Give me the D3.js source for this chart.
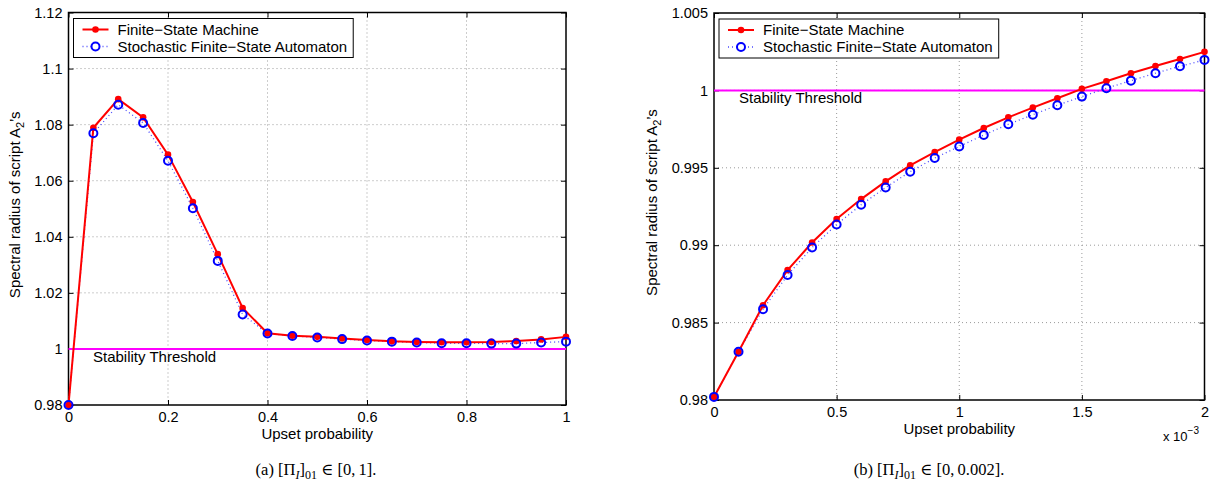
<!DOCTYPE html>
<html lang="en">
<head>
<meta charset="utf-8" />
<title>Spectral radius vs upset probability</title>
<script src="https://cdn.jsdelivr.net/npm/d3@7"></script>
<style>
  body { margin: 0; background: #fff; }
  svg text { font-family: "Liberation Sans", Arial, sans-serif; fill: #000; }
  svg text.cap { font-family: "Liberation Serif", "DejaVu Serif", serif; }
</style>
</head>
<body>
<div id="chart"></div>
<script>
"use strict";

// panel (a): upset probability 0..1
let xA = [0,0.05,0.1,0.15,0.2,0.25,0.3,0.35,0.4,0.45,0.5,0.55,0.6,0.65,0.7,0.75,0.8,0.85,0.9,0.95,1]
let fsmA = [0.98,1.0789,1.0891,1.0826,1.0693,1.0524,1.0338,1.0146,1.0056,1.0047,1.0043,1.0037,1.0032,1.0027,1.0025,1.0024,1.0024,1.0025,1.0028,1.0034,1.0043]
let sfsaA = [0.98,1.0769,1.0871,1.0806,1.0671,1.0502,1.0314,1.0123,1.0055,1.0046,1.0041,1.0035,1.0030,1.0026,1.0023,1.0020,1.0020,1.0019,1.0019,1.0023,1.0026]
let xTicksA = [0,0.2,0.4,0.6,0.8,1]
let yTicksA = [0.98,1,1.02,1.04,1.06,1.08,1.1,1.12]

// panel (b): upset probability 0..0.002 (x in units of 1e-3)
let xB = [0,0.1,0.2,0.3,0.4,0.5,0.6,0.7,0.8,0.9,1,1.1,1.2,1.3,1.4,1.5,1.6,1.7,1.8,1.9,2]
let fsmB = [0.9802,0.98312,0.98612,0.98839,0.99017,0.99169,0.99298,0.99412,0.99516,0.99601,0.99682,0.99757,0.99826,0.99889,0.99949,1.0001,1.00059,1.00111,1.00158,1.00203,1.00249]
let sfsaB = [0.9802,0.98312,0.98587,0.98807,0.98985,0.99134,0.99261,0.99373,0.99475,0.99563,0.99638,0.99712,0.99781,0.99843,0.99904,0.9996,1.00014,1.00063,1.00111,1.00156,1.00197]
let xTicksB = [0,0.5,1,1.5,2]
let yTicksB = [0.98,0.985,0.99,0.995,1,1.005]

let threshold = 1
let seriesNames = ["Finite\u2212State Machine", "Stochastic Finite\u2212State Automaton"]

let width = 1211, height = 489
let svg = d3.select("#chart").append("svg").attr("width", width).attr("height", height)

function panel(opt){
  let x = d3.scaleLinear().domain(opt.xDom).range([opt.left, opt.right])
  let y = d3.scaleLinear().domain(opt.yDom).range([opt.bottom, opt.top])
  let g = svg.append("g")

  // grid
  g.append("g").selectAll("line").data(opt.xTicks.slice(1, -1)).join("line")
    .attr("x1", d => x(d)).attr("x2", d => x(d)).attr("y1", opt.top).attr("y2", opt.bottom)
    .attr("stroke", "#9a9a9a").attr("stroke-width", 1).attr("stroke-dasharray", "1,3")
  g.append("g").selectAll("line").data(opt.yTicks.slice(1, -1)).join("line")
    .attr("y1", d => y(d)).attr("y2", d => y(d)).attr("x1", opt.left).attr("x2", opt.right)
    .attr("stroke", "#9a9a9a").attr("stroke-width", 1).attr("stroke-dasharray", "1,3")

  // axes, ticks inward on all four sides
  g.append("g").attr("transform", `translate(0,${opt.bottom})`)
    .call(d3.axisBottom(x).tickValues(opt.xTicks).tickSize(-5).tickPadding(7).tickFormat(d3.format("")))
  g.append("g").attr("transform", `translate(${opt.left},0)`)
    .call(d3.axisLeft(y).tickValues(opt.yTicks).tickSize(-5).tickPadding(6).tickFormat(d3.format("")))
  g.append("g").attr("transform", `translate(0,${opt.top})`)
    .call(d3.axisTop(x).tickValues(opt.xTicks).tickSize(-5).tickFormat(""))
  g.append("g").attr("transform", `translate(${opt.right},0)`)
    .call(d3.axisRight(y).tickValues(opt.yTicks).tickSize(-5).tickFormat(""))
  g.selectAll(".domain").remove()
  g.selectAll(".tick text").attr("font-size", 14.5).attr("font-family", "Liberation Sans, Arial, sans-serif")
  g.selectAll(".tick line").attr("stroke", "#000")
  g.append("rect").attr("x", opt.left).attr("y", opt.top)
    .attr("width", opt.right - opt.left).attr("height", opt.bottom - opt.top)
    .attr("fill", "none").attr("stroke", "#000").attr("stroke-width", 1.5)

  // threshold
  g.append("line").attr("x1", opt.left).attr("x2", opt.right)
    .attr("y1", y(threshold)).attr("y2", y(threshold))
    .attr("stroke", "#ff00ff").attr("stroke-width", 2)
  g.append("text").attr("x", opt.thrX).attr("y", y(threshold) + 13)
    .attr("font-size", 15).text("Stability Threshold")

  // series
  let ptsF = opt.xs.map((d, i) => [d, opt.fsm[i]])
  let ptsS = opt.xs.map((d, i) => [d, opt.sfsa[i]])
  let line = d3.line().x(d => x(d[0])).y(d => y(d[1]))
  g.append("path").datum(ptsS).attr("d", line).attr("fill", "none")
    .attr("stroke", "#4a4aff").attr("stroke-width", 1.3).attr("stroke-dasharray", "1,3")
  g.append("path").datum(ptsF).attr("d", line).attr("fill", "none")
    .attr("stroke", "#ff0000").attr("stroke-width", 2)
  g.append("g").selectAll("circle").data(ptsF).join("circle")
    .attr("cx", d => x(d[0])).attr("cy", d => y(d[1])).attr("r", 3.3).attr("fill", "#ff0000")
  g.append("g").selectAll("circle").data(ptsS).join("circle")
    .attr("cx", d => x(d[0])).attr("cy", d => y(d[1])).attr("r", 4)
    .attr("fill", "none").attr("stroke", "#0000ff").attr("stroke-width", 2)

  // legend
  let lg = g.append("g").attr("transform", `translate(${opt.left + 5},${opt.top + 6})`)
  let box = lg.append("rect").attr("height", 39)
    .attr("fill", "#fff").attr("stroke", "#000").attr("stroke-width", 1)
  lg.append("line").attr("x1", 9).attr("x2", 35).attr("y1", 11).attr("y2", 11)
    .attr("stroke", "#ff0000").attr("stroke-width", 2)
  lg.append("circle").attr("cx", 22).attr("cy", 11).attr("r", 3.3).attr("fill", "#ff0000")
  lg.append("line").attr("x1", 9).attr("x2", 35).attr("y1", 28).attr("y2", 28)
    .attr("stroke", "#4a4aff").attr("stroke-width", 1.3).attr("stroke-dasharray", "1,3")
  lg.append("circle").attr("cx", 22).attr("cy", 28).attr("r", 4)
    .attr("fill", "#fff").attr("stroke", "#0000ff").attr("stroke-width", 2)
  let t1 = lg.append("text").attr("x", 44).attr("y", 16).attr("font-size", 15).text(seriesNames[0])
  let t2 = lg.append("text").attr("x", 44).attr("y", 33).attr("font-size", 15).text(seriesNames[1])
  let tw = Math.max(t1.node().getComputedTextLength(), t2.node().getComputedTextLength())
  box.attr("width", 44 + tw + 6)

  // axis labels
  g.append("text").attr("x", (opt.left + opt.right) / 2).attr("y", opt.bottom + 34)
    .attr("text-anchor", "middle").attr("font-size", 15).text("Upset probability")
  let yl = g.append("text").attr("transform", `translate(${opt.yLabX},${(opt.top + opt.bottom) / 2 - 4}) rotate(-90)`)
    .attr("text-anchor", "middle").attr("font-size", 15)
  yl.append("tspan").text("Spectral radius of script A")
  yl.append("tspan").attr("dy", 4).attr("font-size", 11).text("2")
  yl.append("tspan").attr("dy", -4).text("\u2019s")

  // caption
  let cap = g.append("text").attr("class", "cap").attr("x", opt.capX).attr("y", 475)
    .attr("text-anchor", "middle").attr("font-size", 16.5)
  cap.append("tspan").text("(" + opt.tag + ")  [\u03A0")
  cap.append("tspan").attr("dy", 4).attr("font-size", 12).attr("font-style", "italic").text("I")
  cap.append("tspan").attr("dy", -4).text("]")
  cap.append("tspan").attr("dy", 4).attr("font-size", 12).text("01")
  cap.append("tspan").attr("dy", -4).text(" \u2208 " + opt.range + ".")
  return g
}

panel({
  xs: xA, fsm: fsmA, sfsa: sfsaA, xTicks: xTicksA, yTicks: yTicksA,
  xDom: [0, 1], yDom: [0.98, 1.12], left: 68.5, right: 566, top: 12.5, bottom: 405,
  thrX: 93, yLabX: 20, capX: 316, tag: "a", range: "[0,\u20091]"
})

let gB = panel({
  xs: xB, fsm: fsmB, sfsa: sfsaB, xTicks: xTicksB, yTicks: yTicksB,
  xDom: [0, 2], yDom: [0.98, 1.005], left: 714, right: 1204.5, top: 13, bottom: 400,
  thrX: 739, yLabX: 657, capX: 929, tag: "b", range: "[0,\u20090.002]"
})

let ex = gB.append("text").attr("x", 1163).attr("y", 441).attr("font-size", 13)
ex.append("tspan").text("x 10")
ex.append("tspan").attr("dy", -7).attr("font-size", 10).text("\u22123")
</script>
</body>
</html>
